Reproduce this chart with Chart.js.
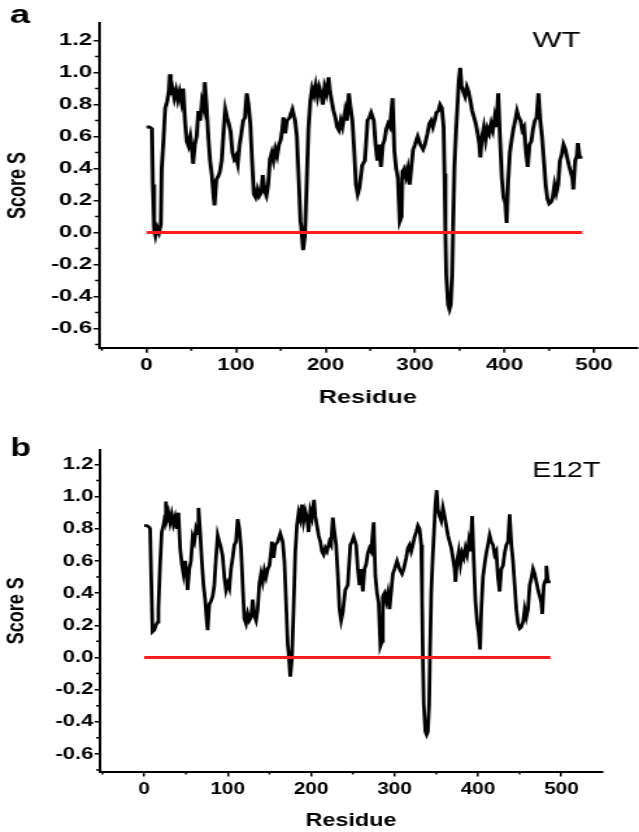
<!DOCTYPE html>
<html>
<head>
<meta charset="utf-8">
<script src="https://cdn.jsdelivr.net/npm/chart.js@4.4.1/dist/chart.umd.min.js"></script>
<style>
  html, body { margin: 0; padding: 0; background: #fff; }
  body { width: 639px; height: 832px; position: relative; overflow: hidden; }
  /* the source figure is stretched sideways, so each panel is drawn narrow and scaled */
  .panel { position: absolute; left: 0; height: 416px; transform-origin: 0 0; }
  #panelA { top: 0; width: 456px; transform: scaleX(1.4013); }
  #panelB { top: 416px; width: 492px; transform: scaleX(1.2988); }
</style>
</head>
<body>
<div class="panel" id="panelA"><canvas id="chartA"></canvas></div>
<div class="panel" id="panelB"><canvas id="chartB"></canvas></div>
<script>
// residue positions
const residue = [
  0, 3, 6, 7, 8.5, 10, 12, 14, 16, 17,
  19, 21, 23, 25, 26, 27, 29, 31, 33, 35,
  37, 39, 41, 43, 45, 47, 49, 51, 52, 54,
  56, 58, 60, 62, 64, 65, 67, 69, 71, 73,
  75, 76, 78, 80, 82, 84, 86, 88, 90, 92,
  94, 96, 98, 100, 102, 104, 106, 108, 110, 112,
  114, 116, 118, 120, 122, 124, 126, 128, 130, 132,
  134, 136, 138, 140, 142, 144, 146, 148, 150, 152,
  153, 155, 157, 160, 163, 166, 168, 170, 172, 173,
  175, 177, 179, 181, 183, 185, 187, 189, 191, 193,
  195, 197, 199, 201, 203.5, 205, 207, 209, 211, 213,
  215, 217, 219, 222, 224, 226, 228, 230, 232, 234,
  236, 238, 241, 244, 247, 249, 251, 254, 256, 258,
  260, 262, 264, 266, 268, 270, 272, 275, 277, 279,
  281, 283, 285, 286, 288, 290, 292, 294, 296, 298,
  300, 303, 306, 309, 311, 314, 316, 318, 320, 322,
  324, 326, 328, 330, 332, 333, 334, 335, 337, 338.5,
  340, 341.5, 342.5, 344, 346, 349, 350.5, 352, 354, 356,
  358, 360, 362, 364, 366, 368, 370, 372, 373, 375,
  377, 379, 381, 383, 385, 387, 389, 391, 393, 395,
  397, 399, 401, 402.5, 404, 406, 408, 410, 412, 414,
  416, 418, 420, 422, 424, 426, 428, 430, 432, 434,
  436, 438, 440, 442, 444, 446, 448, 450, 452, 454,
  456, 458, 460, 462, 464, 466, 468, 470, 472, 474,
  476, 477, 479, 481, 482, 484, 487
];

// panel a, WT
const wtScore = [
  0.66, 0.66, 0.65, 0.30, 0.02, -0.02, 0.03, 0.00, 0.05, 0.40,
  0.58, 0.78, 0.82, 0.88, 0.99, 0.86, 0.90, 0.84, 0.89, 0.83,
  0.88, 0.82, 0.90, 0.70, 0.57, 0.54, 0.60, 0.52, 0.43, 0.55,
  0.60, 0.76, 0.70, 0.82, 0.78, 0.94, 0.80, 0.60, 0.45, 0.36,
  0.22, 0.17, 0.33, 0.35, 0.38, 0.45, 0.62, 0.77, 0.72, 0.68,
  0.63, 0.50, 0.46, 0.48, 0.43, 0.55, 0.62, 0.70, 0.72, 0.87,
  0.80, 0.68, 0.45, 0.24, 0.22, 0.27, 0.23, 0.25, 0.36, 0.26,
  0.23, 0.30, 0.46, 0.50, 0.45, 0.52, 0.48, 0.55, 0.58, 0.66,
  0.72, 0.62, 0.70, 0.72, 0.77, 0.70, 0.60, 0.34, 0.07, 0.03,
  -0.11, -0.02, 0.30, 0.65, 0.82, 0.90, 0.86, 0.92, 0.85, 0.91,
  0.87, 0.80, 0.91, 0.87, 0.97, 0.88, 0.82, 0.76, 0.72, 0.66,
  0.64, 0.70, 0.66, 0.76, 0.70, 0.87, 0.78, 0.70, 0.52, 0.30,
  0.24, 0.28, 0.42, 0.45, 0.70, 0.72, 0.75, 0.70, 0.55, 0.45,
  0.55, 0.41, 0.55, 0.58, 0.65, 0.68, 0.66, 0.84, 0.51, 0.40,
  0.34, 0.07, 0.10, 0.38, 0.40, 0.35, 0.40, 0.30, 0.41, 0.52,
  0.55, 0.60, 0.55, 0.52, 0.55, 0.62, 0.68, 0.70, 0.66, 0.70,
  0.75, 0.76, 0.80, 0.78, 0.66, 0.37, 0.00, -0.27, -0.45, -0.48,
  -0.45, -0.27, 0.03, 0.40, 0.65, 0.95, 1.03, 0.92, 0.88, 0.85,
  0.91, 0.88, 0.82, 0.76, 0.72, 0.68, 0.62, 0.55, 0.47, 0.60,
  0.66, 0.58, 0.65, 0.62, 0.68, 0.64, 0.72, 0.66, 0.87, 0.60,
  0.35, 0.22, 0.18, 0.06, 0.32, 0.50, 0.58, 0.65, 0.70, 0.76,
  0.72, 0.70, 0.64, 0.66, 0.50, 0.41, 0.55, 0.57, 0.65, 0.70,
  0.72, 0.87, 0.70, 0.60, 0.45, 0.30, 0.21, 0.18, 0.19, 0.22,
  0.30, 0.25, 0.30, 0.45, 0.49, 0.55, 0.52, 0.47, 0.42, 0.38,
  0.34, 0.27, 0.45, 0.48, 0.56, 0.47, 0.47
];

// panel b, E12T
const e12tScore = [
  0.82, 0.82, 0.81, 0.80, 0.46, 0.16, 0.17, 0.20, 0.22, 0.30,
  0.58, 0.78, 0.82, 0.88, 0.97, 0.86, 0.90, 0.84, 0.89, 0.83,
  0.87, 0.80, 0.90, 0.68, 0.58, 0.52, 0.60, 0.50, 0.42, 0.55,
  0.60, 0.75, 0.72, 0.80, 0.77, 0.93, 0.78, 0.60, 0.45, 0.36,
  0.22, 0.17, 0.33, 0.35, 0.38, 0.45, 0.62, 0.76, 0.72, 0.68,
  0.63, 0.50, 0.42, 0.46, 0.43, 0.55, 0.62, 0.70, 0.72, 0.86,
  0.80, 0.68, 0.45, 0.24, 0.21, 0.27, 0.23, 0.25, 0.36, 0.26,
  0.23, 0.30, 0.46, 0.52, 0.47, 0.54, 0.50, 0.55, 0.57, 0.66,
  0.72, 0.62, 0.70, 0.72, 0.77, 0.72, 0.60, 0.34, 0.08, 0.03,
  -0.12, -0.01, 0.30, 0.65, 0.82, 0.90, 0.86, 0.95, 0.85, 0.91,
  0.87, 0.78, 0.91, 0.87, 0.98, 0.88, 0.82, 0.76, 0.72, 0.66,
  0.64, 0.68, 0.66, 0.72, 0.70, 0.87, 0.78, 0.70, 0.52, 0.30,
  0.23, 0.28, 0.42, 0.45, 0.70, 0.72, 0.75, 0.70, 0.55, 0.45,
  0.55, 0.41, 0.55, 0.58, 0.65, 0.68, 0.66, 0.84, 0.51, 0.40,
  0.34, 0.07, 0.10, 0.38, 0.40, 0.35, 0.40, 0.30, 0.41, 0.52,
  0.55, 0.60, 0.55, 0.52, 0.55, 0.62, 0.68, 0.70, 0.66, 0.70,
  0.75, 0.78, 0.82, 0.80, 0.70, 0.37, 0.00, -0.29, -0.46, -0.48,
  -0.46, -0.29, 0.03, 0.40, 0.65, 0.95, 1.04, 0.92, 0.88, 0.85,
  0.93, 0.88, 0.82, 0.76, 0.72, 0.68, 0.62, 0.55, 0.47, 0.60,
  0.66, 0.58, 0.65, 0.62, 0.68, 0.64, 0.72, 0.66, 0.88, 0.60,
  0.35, 0.22, 0.15, 0.05, 0.30, 0.50, 0.58, 0.65, 0.70, 0.76,
  0.72, 0.70, 0.64, 0.66, 0.50, 0.41, 0.55, 0.57, 0.65, 0.70,
  0.72, 0.89, 0.70, 0.60, 0.45, 0.30, 0.21, 0.18, 0.19, 0.22,
  0.30, 0.25, 0.30, 0.45, 0.49, 0.55, 0.52, 0.47, 0.42, 0.38,
  0.34, 0.27, 0.45, 0.48, 0.57, 0.47, 0.47
];

// red zero line
const zeroLineX = [0, 487];
const zeroLineY = [0, 0];

const xTicks = [0, 100, 200, 300, 400, 500];
const xMinor = [-50, 50, 150, 250, 350, 450];
const yTicks = [-0.6, -0.4, -0.2, 0, 0.2, 0.4, 0.6, 0.8, 1.0, 1.2];
const yMinor = [-0.7, -0.5, -0.3, -0.1, 0.1, 0.3, 0.5, 0.7, 0.9, 1.1];

const FONT = '"Liberation Sans", Arial, sans-serif';

const minorTicks = {
  id: 'minorTicks',
  afterDraw(chart) {
    const { ctx, scales: { x, y } } = chart;
    ctx.save();
    ctx.strokeStyle = '#000';
    ctx.lineWidth = 1.5;
    ctx.beginPath();
    yMinor.forEach(v => {
      const py = y.getPixelForValue(v);
      if (py < y.top || py > y.bottom) return;
      ctx.moveTo(y.right - 3, py);
      ctx.lineTo(y.right, py);
    });
    xMinor.forEach(v => {
      const px = x.getPixelForValue(v);
      if (px < x.left || px > x.right) return;
      ctx.moveTo(px, x.top);
      ctx.lineTo(px, x.top + 3);
    });
    ctx.stroke();
    ctx.restore();
  }
};

const panelLabels = {
  id: 'panelLabels',
  afterDraw(chart, args, opts) {
    const ctx = chart.ctx;
    ctx.save();
    ctx.fillStyle = '#000';
    ctx.textBaseline = 'alphabetic';
    ctx.textAlign = 'left';
    ctx.font = 'bold 26px ' + FONT;
    ctx.fillText(opts.letter, opts.letterX, opts.letterY);
    ctx.textAlign = 'center';
    ctx.font = '22px ' + FONT;
    ctx.fillText(opts.name, opts.nameX, opts.nameY);
    ctx.restore();
  }
};

function buildPanel(id, scores, g) {
  const line = residue.map((r, i) => ({ x: r, y: scores[i] }));
  const zero = zeroLineX.map((r, i) => ({ x: r, y: zeroLineY[i] }));

  return new Chart(document.getElementById(id), {
    type: 'line',
    data: {
      datasets: [
        { data: zero, borderColor: '#ff1e1e', borderWidth: 3, pointRadius: 0 },
        { data: line, borderColor: '#000', borderWidth: 2.8, pointRadius: 0, tension: 0 }
      ]
    },
    options: {
      responsive: true,
      maintainAspectRatio: false,
      animation: false,
      layout: { padding: { top: g.top, right: g.right, bottom: 0, left: 0 } },
      plugins: {
        legend: { display: false },
        tooltip: { enabled: false },
        panelLabels: g.labels
      },
      scales: {
        x: {
          type: 'linear',
          min: -53,
          max: g.xMax,
          afterBuildTicks: s => { s.ticks = xTicks.map(v => ({ value: v })); },
          afterFit: s => { s.height = g.xAxisHeight; },
          grid: { drawOnChartArea: false, color: '#000', lineWidth: 1.5, tickLength: 5 },
          border: { color: '#000', width: 2 },
          ticks: {
            color: '#000', padding: 3, autoSkip: false, maxRotation: 0,
            font: { family: FONT, size: 16, weight: 'bold' },
            callback: v => String(v)
          },
          title: {
            display: true, text: 'Residue', color: '#000',
            font: { family: FONT, size: 18, weight: 'bold' },
            padding: { top: 0, bottom: g.titlePad }
          }
        },
        y: {
          min: g.yMin,
          max: g.yMax,
          afterBuildTicks: s => { s.ticks = yTicks.map(v => ({ value: v })); },
          afterFit: s => { s.width = g.yAxisWidth; },
          grid: { drawOnChartArea: false, color: '#000', lineWidth: 1.5, tickLength: 4 },
          border: { color: '#000', width: 2 },
          ticks: {
            color: '#000', padding: 1, autoSkip: false,
            font: { family: FONT, size: 17, weight: 'bold' },
            callback: v => v.toFixed(1)
          },
          title: {
            display: true, text: 'Score S', color: '#000',
            font: { family: FONT, size: 18, weight: 'bold' },
            padding: { top: 2, bottom: 0 }
          }
        }
      }
    },
    plugins: [minorTicks, panelLabels]
  });
}

buildPanel('chartA', wtScore, {
  top: 23, right: 0, xMax: 548, yMin: -0.72, yMax: 1.31,
  yAxisWidth: 70.7, xAxisHeight: 68.2, titlePad: 7,
  labels: { letter: 'a', letterX: 7, letterY: 23, name: 'WT', nameX: 397, nameY: 47 }
});

buildPanel('chartB', e12tScore, {
  top: 34, right: 28.3, xMax: 549, yMin: -0.71, yMax: 1.29,
  yAxisWidth: 77, xAxisHeight: 60.4, titlePad: 0,
  labels: { letter: 'b', letterX: 8, letterY: 40, name: 'E12T', nameX: 436, nameY: 61 }
});
</script>
</body>
</html>
